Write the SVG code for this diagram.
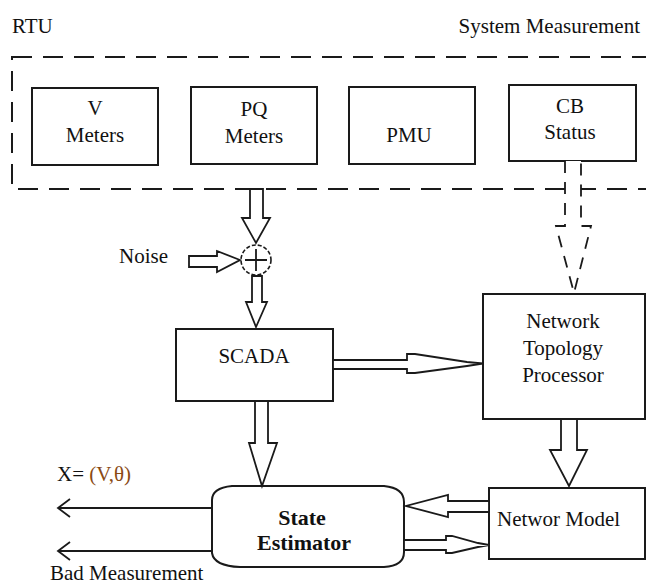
<svg xmlns="http://www.w3.org/2000/svg" width="646" height="585" viewBox="0 0 646 585">
<style>
.box{fill:#fff;stroke:#1a1a1a;stroke-width:2}
.t{font-family:'Liberation Serif','DejaVu Serif',serif;font-size:21px;fill:#111;text-anchor:middle}
.l{font-family:'Liberation Serif','DejaVu Serif',serif;font-size:21px;fill:#111}
.b{font-family:'Liberation Serif','DejaVu Serif',serif;font-size:22px;font-weight:bold;fill:#111;text-anchor:middle}
.arr{fill:#fff;stroke:#1a1a1a;stroke-width:1.8;stroke-linejoin:miter}
.dash{fill:none;stroke:#1a1a1a;stroke-width:2;stroke-dasharray:20 11}
.ln{fill:none;stroke:#1a1a1a;stroke-width:1.8}
</style>
<rect width="646" height="585" fill="#fff"/>
<g id="labels">
<text class="l" x="12" y="33">RTU</text>
<text class="l" x="640" y="33" text-anchor="end">System Measurement</text>
<text class="l" x="119" y="263">Noise</text>
<text class="l" x="57" y="481">X= <tspan fill="#8a4a14">(V,θ)</tspan></text>
<text class="l" x="50" y="580">Bad Measurement</text>
</g>
<g id="rtu">
<rect class="dash" x="12" y="57" width="660" height="132"/>
</g>
<g id="v-meters">
<rect class="box" x="32" y="88" width="126" height="77"/>
<text class="t" x="95" y="115">V</text>
<text class="t" x="95" y="142">Meters</text>
</g>
<g id="pq-meters">
<rect class="box" x="191" y="87" width="126" height="77"/>
<text class="t" x="254" y="116">PQ</text>
<text class="t" x="254" y="143">Meters</text>
</g>
<g id="pmu">
<rect class="box" x="349" y="87" width="126" height="77"/>
<text class="t" x="409" y="142">PMU</text>
</g>
<g id="cb-status">
<rect class="box" x="509" y="85" width="127" height="76"/>
<text class="t" x="570" y="113">CB</text>
<text class="t" x="570" y="139">Status</text>
</g>
<g id="sum">
<circle cx="256" cy="260" r="15" fill="#fff" stroke="#1a1a1a" stroke-width="1.6" stroke-dasharray="4 2"/>
<path class="ln" d="M245,260 H267 M256,249 V271"/>
</g>
<g id="scada">
<rect class="box" x="176" y="329" width="157" height="72"/>
<text class="t" x="254" y="363">SCADA</text>
</g>
<g id="ntp">
<rect class="box" x="483" y="294" width="162" height="125"/>
<text class="t" x="563" y="328">Network</text>
<text class="t" x="563" y="355">Topology</text>
<text class="t" x="563" y="382">Processor</text>
</g>
<g id="state-estimator">
<path class="box" d="M232,486 H384 Q404,488 404,502 V552 Q404,566 384,567 H240 Q214,566 212,553 V500 Q212,488 232,486 Z"/>
<text class="b" x="302" y="525">State</text>
<text class="b" x="304" y="550">Estimator</text>
</g>
<g id="network-model">
<rect class="box" x="489" y="488" width="156" height="71"/>
<text class="l" x="497" y="526">Networ Model</text>
</g>
<g id="connectors">
<path class="arr" d="M250,189 H263 V218 H270 L256,243 L242,218 H250 Z"/>
<path class="arr" d="M189,256 H217 V251 L240,260 L217,272 V267 H189 Z"/>
<path class="arr" d="M252,276 H262 V302 H267 L256,327 L246,302 H252 Z"/>
<path class="arr" d="M333,360 H407 V354 H415 L467,362 L483,363.5 L467,366 L415,373 H407 V369 H333 Z"/>
<path class="arr" d="M255,401 H268 V443 H277 L262,486 L249,443 H255 Z"/>
<path class="arr" d="M565,161 V226 H556 L574,293 L591,226 H581 V161" stroke-dasharray="12 9"/>
<path class="arr" d="M561,419 H577 V450 H587 L569,486 L550,450 H561 Z"/>
<path class="arr" d="M489,501 H448 V495 L406,506 L448,517 V512 H489 Z"/>
<path class="arr" d="M404,540 H446 V536 H452 L478,543 L489,545 L478,547 L452,553 H446 V550 H404 Z"/>
<path class="ln" d="M212,508 H58 M70,499 L58,508 L70,517"/>
<path class="ln" d="M212,551 H58 M70,542 L58,551 L70,560"/>
</g>
</svg>
